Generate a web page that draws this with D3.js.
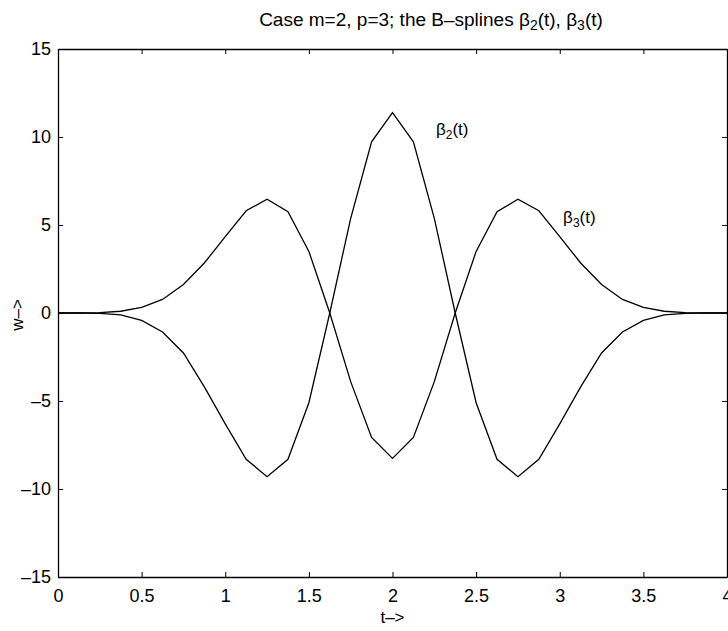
<!DOCTYPE html>
<html>
<head>
<meta charset="utf-8">
<script src="https://cdn.jsdelivr.net/npm/d3@7"></script>
<style>
  body { margin: 0; background: #fff; }
  svg text { font-family: "Liberation Sans", Arial, sans-serif; fill: #000; }
</style>
</head>
<body>
<svg id="chart" width="728" height="631"></svg>
<script>
// sample points t = 0 .. 4 step 0.125
const tValues = [0, 0.125, 0.25, 0.375, 0.5, 0.625, 0.75, 0.875, 1, 1.125, 1.25, 1.375, 1.5, 1.625, 1.75, 1.875,
  2, 2.125, 2.25, 2.375, 2.5, 2.625, 2.75, 2.875, 3, 3.125, 3.25, 3.375, 3.5, 3.625, 3.75, 3.875, 4]

// beta2: dips at 1.25 and 2.75, big peak at 2
const beta2 = [0, 0, -0.02, -0.11, -0.42, -1.08, -2.27, -4.2, -6.3, -8.31, -9.3, -8.31, -5.1, 0, 5.38, 9.73,
  11.38, 9.73, 5.38, 0, -5.1, -8.31, -9.3, -8.31, -6.3, -4.2, -2.27, -1.08, -0.42, -0.11, -0.02, 0, 0]

// beta3: peaks at 1.25 and 2.75, dip at 2
const beta3 = [0, 0, 0.02, 0.1, 0.32, 0.77, 1.62, 2.84, 4.34, 5.81, 6.46, 5.76, 3.5, 0, -3.9, -7.07,
  -8.26, -7.07, -3.9, 0, 3.5, 5.76, 6.46, 5.81, 4.34, 2.84, 1.62, 0.77, 0.32, 0.1, 0.02, 0, 0]

const xTicks = [0, 0.5, 1, 1.5, 2, 2.5, 3, 3.5, 4]
const yTicks = [-15, -10, -5, 0, 5, 10, 15]

const m = {top: 49, right: 1, bottom: 54, left: 58}
const width = 728, height = 631
const iw = width - m.left - m.right
const ih = height - m.top - m.bottom

const svg = d3.select("#chart")
const root = svg.append("g").attr("transform", `translate(${m.left},${m.top})`)

const x = d3.scaleLinear().domain([0, 4]).range([0, iw])
const y = d3.scaleLinear().domain([-15, 15]).range([ih, 0])

const fmt = (d) => (d < 0 ? "\u2013" + Math.abs(d) : String(d))

const styleAxis = (g) => {
  g.selectAll("path.domain").attr("stroke", "#000").attr("stroke-width", 1.3)
  g.selectAll(".tick line").attr("stroke", "#000").attr("stroke-width", 1)
  g.selectAll(".tick text").attr("font-size", 18).attr("font-family", "Liberation Sans, Arial, sans-serif").attr("fill", "#000")
}

root.append("g")
  .attr("transform", `translate(0,${ih})`)
  .call(d3.axisBottom(x).tickValues(xTicks).tickFormat(fmt).tickSizeInner(-5).tickSizeOuter(0).tickPadding(12))
  .call(styleAxis)

root.append("g")
  .call(d3.axisTop(x).tickValues(xTicks).tickFormat("").tickSizeInner(-5).tickSizeOuter(0))
  .call(styleAxis)

root.append("g")
  .call(d3.axisLeft(y).tickValues(yTicks).tickFormat(fmt).tickSizeInner(-5).tickSizeOuter(0).tickPadding(7))
  .call(styleAxis)

root.append("g")
  .attr("transform", `translate(${iw},0)`)
  .call(d3.axisRight(y).tickValues(yTicks).tickFormat("").tickSizeInner(-5).tickSizeOuter(0))
  .call(styleAxis)

const line = d3.line().x((d) => x(d[0])).y((d) => y(d[1]))

for (const series of [beta2, beta3]) {
  root.append("path")
    .datum(tValues.map((t, i) => [t, series[i]]))
    .attr("fill", "none")
    .attr("stroke", "#000")
    .attr("stroke-width", 1.3)
    .attr("stroke-linejoin", "miter")
    .attr("d", line)
}

// curve labels
const label = (px, py, sub) => {
  const t = root.append("text").attr("x", px).attr("y", py).attr("font-size", 17)
  t.append("tspan").text("\u03b2")
  t.append("tspan").attr("font-size", 12).attr("dy", 4).text(sub)
  t.append("tspan").attr("dy", -4).text("(t)")
}
label(x(2.26), y(10.1), "2")
label(x(3.02), y(5.1), "3")

// title
const title = svg.append("text")
  .attr("x", 431).attr("y", 26)
  .attr("text-anchor", "middle")
  .attr("font-size", 19)
title.append("tspan").text("Case m=2, p=3; the B\u2013splines \u03b2")
title.append("tspan").attr("font-size", 14).attr("dy", 4).text("2")
title.append("tspan").attr("dy", -4).text("(t), \u03b2")
title.append("tspan").attr("font-size", 14).attr("dy", 4).text("3")
title.append("tspan").attr("dy", -4).text("(t)")

// axis labels
svg.append("text")
  .attr("x", m.left + x(2)).attr("y", 623)
  .attr("text-anchor", "middle")
  .attr("font-size", 17)
  .text("t\u2013>")

svg.append("text")
  .attr("transform", `translate(23,${m.top + y(0) + 2}) rotate(-90)`)
  .attr("text-anchor", "middle")
  .attr("font-size", 17)
  .text("w\u2013>")
</script>
</body>
</html>
